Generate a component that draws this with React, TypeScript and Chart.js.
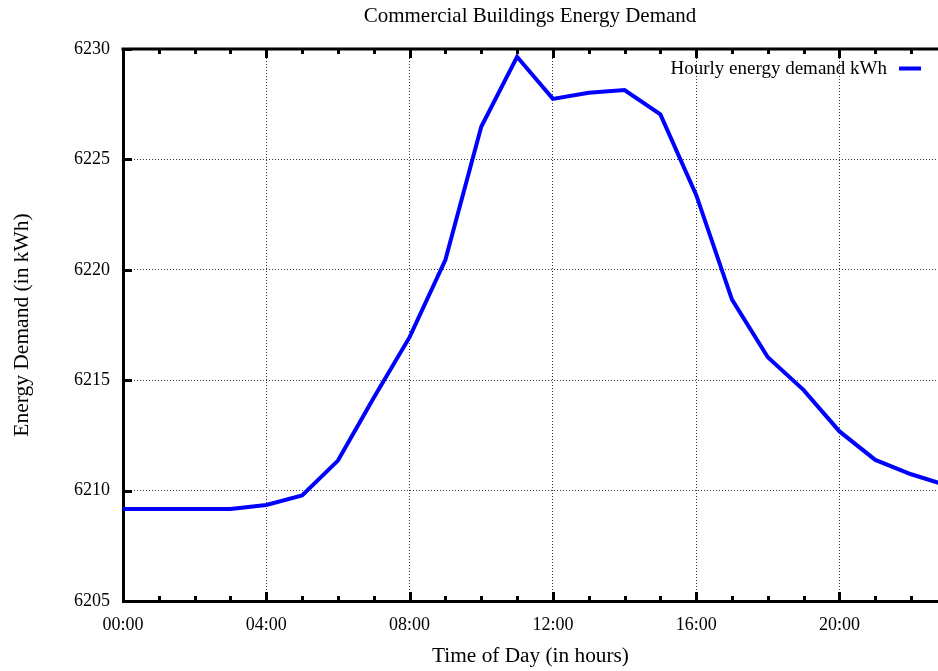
import { useEffect, useRef } from "react";
import { Chart, registerables } from "chart.js";

Chart.register(...registerables);

const TITLE = "Commercial Buildings Energy Demand";
const X_TITLE = "Time of Day (in hours)";
const Y_TITLE = "Energy Demand (in kWh)";
const SERIES_LABEL = "Hourly energy demand kWh";

const HOURS = [0, 1, 2, 3, 4, 5, 6, 7, 8, 9, 10, 11, 12, 13, 14, 15, 16, 17, 18, 19, 20, 21, 22, 23];
const DEMAND = [
  6209.17, 6209.17, 6209.17, 6209.17, 6209.35, 6209.78, 6211.36, 6214.2, 6216.95, 6220.45, 6226.48, 6229.65,
  6227.74, 6228.02, 6228.14, 6227.04, 6223.39, 6218.65, 6216.04, 6214.55, 6212.68, 6211.39, 6210.74, 6210.23,
];
const X_TICKS = [0, 4, 8, 12, 16, 20];
const Y_TICKS = [6205, 6210, 6215, 6220, 6225, 6230];

const FONT = "'Liberation Serif', 'Times New Roman', serif";
const LINE_COLOR = "#0000ff";

const decor = {
  id: "decor",
  afterDraw(chart: any) {
    const { ctx, chartArea: a, scales } = chart;
    const xs = scales.x;
    const ys = scales.y;
    ctx.save();
    ctx.strokeStyle = "#000";
    ctx.lineWidth = 3;
    ctx.lineCap = "butt";
    // top frame
    ctx.beginPath();
    ctx.moveTo(a.left - 1.5, a.top);
    ctx.lineTo(a.right, a.top);
    ctx.stroke();
    // x ticks (inside, bottom and top)
    ctx.beginPath();
    for (const h of HOURS) {
      if (h > xs.max) continue;
      const px = Math.round(xs.getPixelForValue(h)) + 0.5;
      const len = X_TICKS.includes(h) ? 9 : 5;
      ctx.moveTo(px, a.bottom);
      ctx.lineTo(px, a.bottom - len);
      ctx.moveTo(px, a.top);
      ctx.lineTo(px, a.top + len);
    }
    // y ticks
    for (const v of Y_TICKS) {
      const py = Math.round(ys.getPixelForValue(v)) + 0.5;
      ctx.moveTo(a.left, py);
      ctx.lineTo(a.left + 9, py);
    }
    ctx.stroke();

    // title
    ctx.fillStyle = "#000";
    ctx.font = `21px ${FONT}`;
    ctx.textAlign = "center";
    ctx.textBaseline = "alphabetic";
    ctx.fillText(TITLE, 530, 22);

    // legend (text then sample line on the right)
    const ds = chart.data.datasets[0];
    ctx.font = `19px ${FONT}`;
    ctx.textAlign = "right";
    ctx.textBaseline = "alphabetic";
    ctx.fillText(ds.label, 887, 74);
    ctx.strokeStyle = ds.borderColor;
    ctx.lineWidth = 4;
    ctx.beginPath();
    ctx.moveTo(899, 68.5);
    ctx.lineTo(921, 68.5);
    ctx.stroke();
    ctx.restore();
  },
};

export default function App() {
  const ref = useRef<HTMLCanvasElement>(null);
  useEffect(() => {
    document.body.style.margin = "0";
    const tickFont = { family: FONT, size: 18 };
    const chart = new Chart(ref.current!, {
      type: "line",
      data: {
        datasets: [
          {
            label: SERIES_LABEL,
            data: HOURS.map((h, i) => ({ x: h, y: DEMAND[i] })),
            borderColor: LINE_COLOR,
            backgroundColor: LINE_COLOR,
            borderWidth: 4,
            pointRadius: 0,
            tension: 0,
            borderJoinStyle: "miter",
            fill: false,
          },
        ],
      },
      options: {
        animation: false,
        responsive: false,
        maintainAspectRatio: false,
        layout: { padding: { top: 49, left: 0, right: 0, bottom: 0 } },
        plugins: {
          legend: { display: false },
          title: { display: false },
          tooltip: { enabled: false },
        },
        scales: {
          x: {
            type: "linear",
            min: 0,
            max: 22.75,
            afterFit: (s: any) => {
              s.height = 70;
            },
            afterBuildTicks: (s: any) => {
              s.ticks = X_TICKS.map((v) => ({ value: v }));
            },
            ticks: {
              callback: (v: any) => `${String(v).padStart(2, "0")}:00`,
              font: tickFont,
              color: "#000",
              padding: 13,
              maxRotation: 0,
              autoSkip: false,
              includeBounds: false,
            },
            grid: { color: "#333", lineWidth: 1, drawTicks: false },
            border: { color: "#000", width: 3, dash: [1, 2] },
            title: {
              display: true,
              text: X_TITLE,
              font: { family: FONT, size: 21.3 },
              color: "#000",
              padding: { top: 0, bottom: 2 },
            },
          },
          y: {
            type: "linear",
            min: 6205,
            max: 6230,
            afterFit: (s: any) => {
              s.width = 123;
            },
            afterBuildTicks: (s: any) => {
              s.ticks = Y_TICKS.map((v) => ({ value: v }));
            },
            ticks: {
              callback: (v: any) => String(v),
              font: tickFont,
              color: "#000",
              padding: 13,
              autoSkip: false,
            },
            grid: { color: "#333", lineWidth: 1, drawTicks: false },
            border: { color: "#000", width: 3, dash: [1, 2] },
            title: {
              display: true,
              text: Y_TITLE,
              font: { family: FONT, size: 21.5 },
              color: "#000",
              padding: { top: 9, bottom: 0 },
            },
          },
        },
      },
      plugins: [decor],
    });
    return () => chart.destroy();
  }, []);
  return (
    <div style={{ width: 938, height: 671, position: "relative" }}>
      <canvas ref={ref} width={938} height={671} style={{ display: "block" }} />
    </div>
  );
}
